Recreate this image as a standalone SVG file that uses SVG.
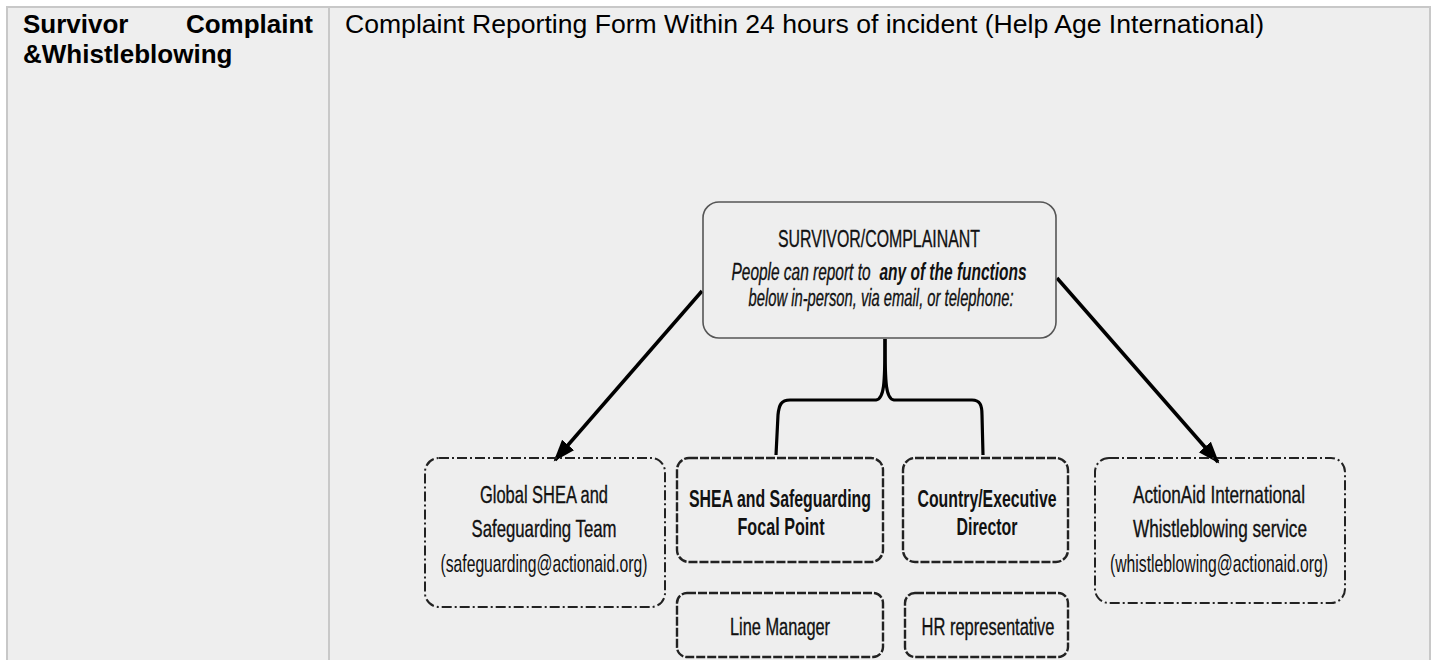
<svg xmlns="http://www.w3.org/2000/svg" width="1435" height="660" viewBox="0 0 1435 660">
<style>
.cell{fill:#eeeeee;stroke:none}
.grid{stroke:#c8c8c8;stroke-width:2;fill:none}
.hdr{font-family:"Liberation Sans",Arial,sans-serif;font-size:26px;fill:#000}
.d{font-family:"Liberation Sans",Arial,sans-serif;font-size:24px;fill:#111;text-anchor:middle;stroke:#111;stroke-width:0.35}
.b{font-weight:bold;stroke-width:0}
.it{font-style:italic}
.thin{stroke-width:0}
.solid{fill:none;stroke:#555;stroke-width:1.6}
.dash{fill:none;stroke:#222;stroke-width:2.4;stroke-dasharray:9 2}
.dashdot{fill:none;stroke:#222;stroke-width:2;stroke-dasharray:10 3 2 3}
.arrow{fill:none;stroke:#000;stroke-width:3.5}
.brace{fill:none;stroke:#000;stroke-width:3.2;stroke-linejoin:round}
</style>
<defs>
<marker id="ah" markerUnits="userSpaceOnUse" markerWidth="24" markerHeight="20" refX="20" refY="8" orient="auto">
<path d="M0,0 L22,8 L0,16 Z" fill="#000"/>
</marker>
</defs>
<rect x="0" y="0" width="1435" height="660" fill="#ffffff"/>
<rect class="cell" x="7" y="7" width="1423" height="653"/>
<g id="table">
<path class="grid" d="M7,660 L7,7 L1430,7 L1430,660"/>
<line class="grid" x1="329" y1="7" x2="329" y2="660"/>
<text class="hdr b" x="23" y="33">Survivor</text>
<text class="hdr b" x="313" y="33" text-anchor="end">Complaint</text>
<text class="hdr b" x="23" y="63">&amp;Whistleblowing</text>
<text class="hdr" x="345" y="33" textLength="919" lengthAdjust="spacingAndGlyphs">Complaint Reporting Form Within 24 hours of incident (Help Age International)</text>
</g>
<g id="connectors">
<line class="arrow" x1="702" y1="291" x2="555" y2="460" marker-end="url(#ah)"/>
<line class="arrow" x1="1057" y1="278" x2="1218" y2="462" marker-end="url(#ah)"/>
<path class="brace" d="M885,339 C885,385 884,399 876,400 L790,400 C781,400 779,405 778,415 L776,455"/>
<path class="brace" d="M885,339 C885,385 886,399 894,400 L972,400 C980,400 982,405 982,415 L983,455"/>
</g>
<g id="survivor">
<rect class="solid" x="703" y="202" width="353" height="136" rx="16"/>
<text class="d" transform="translate(879,247) scale(0.7,1)" textLength="288.6" lengthAdjust="spacingAndGlyphs">SURVIVOR/COMPLAINANT</text>
<text class="d it" transform="translate(801,280) scale(0.7,1)" textLength="198.6" lengthAdjust="spacingAndGlyphs">People can report to</text>
<text class="d it b" transform="translate(953,280) scale(0.7,1)" textLength="210" lengthAdjust="spacingAndGlyphs">any of the functions</text>
<text class="d it" transform="translate(881,306) scale(0.7,1)" textLength="378.6" lengthAdjust="spacingAndGlyphs">below in-person, via email, or telephone:</text>
</g>
<g id="global">
<rect class="dashdot" x="425" y="458" width="240" height="149" rx="14"/>
<text class="d" transform="translate(544,503) scale(0.7,1)" textLength="182.9" lengthAdjust="spacingAndGlyphs">Global SHEA and</text>
<text class="d" transform="translate(544,537) scale(0.7,1)" textLength="207.1" lengthAdjust="spacingAndGlyphs">Safeguarding Team</text>
<text class="d thin" transform="translate(544,572) scale(0.7,1)" textLength="295.7" lengthAdjust="spacingAndGlyphs">(safeguarding@actionaid.org)</text>
</g>
<g id="focal">
<rect class="dash" x="677" y="458" width="206" height="104" rx="12"/>
<text class="d b" transform="translate(780,507) scale(0.7,1)" textLength="260" lengthAdjust="spacingAndGlyphs">SHEA and Safeguarding</text>
<text class="d b" transform="translate(781,535) scale(0.7,1)" textLength="124.3" lengthAdjust="spacingAndGlyphs">Focal Point</text>
</g>
<g id="director">
<rect class="dash" x="903" y="458" width="165" height="104" rx="12"/>
<text class="d b" transform="translate(987,507) scale(0.7,1)" textLength="198.6" lengthAdjust="spacingAndGlyphs">Country/Executive</text>
<text class="d b" transform="translate(987,535) scale(0.7,1)" textLength="87.1" lengthAdjust="spacingAndGlyphs">Director</text>
</g>
<g id="linemanager">
<rect class="dash" x="677" y="593" width="206" height="64" rx="10"/>
<text class="d" transform="translate(780,635) scale(0.7,1)" textLength="142.9" lengthAdjust="spacingAndGlyphs">Line Manager</text>
</g>
<g id="hr">
<rect class="dash" x="905" y="593" width="163" height="64" rx="10"/>
<text class="d" transform="translate(988,635) scale(0.7,1)" textLength="190" lengthAdjust="spacingAndGlyphs">HR representative</text>
</g>
<g id="whistle">
<rect class="dashdot" x="1095" y="458" width="250" height="145" rx="14"/>
<text class="d" transform="translate(1219,503) scale(0.7,1)" textLength="245.7" lengthAdjust="spacingAndGlyphs">ActionAid International</text>
<text class="d" transform="translate(1220,537) scale(0.7,1)" textLength="248.6" lengthAdjust="spacingAndGlyphs">Whistleblowing service</text>
<text class="d thin" transform="translate(1219,572) scale(0.7,1)" textLength="311.4" lengthAdjust="spacingAndGlyphs">(whistleblowing@actionaid.org)</text>
</g>
</svg>
